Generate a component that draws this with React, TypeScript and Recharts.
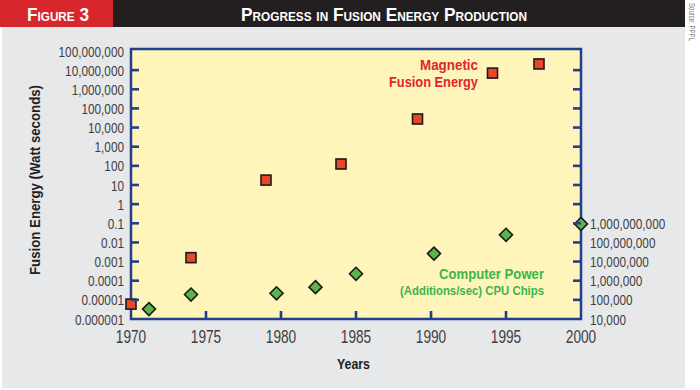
import React from 'react';
import { ScatterChart, Scatter, XAxis, YAxis, ReferenceArea } from 'recharts';

// Magnetic fusion energy (Watt seconds), left axis
const magneticYears = [1970, 1974, 1979, 1984, 1989.1, 1994.1, 1997.2];
const magneticEnergy = [6e-6, 1.6e-3, 18, 125, 2.8e4, 7e6, 2.1e7];

// Computer power (additions/sec), right axis
const cpuYears = [1971.2, 1974, 1979.7, 1982.3, 1985, 1990.2, 1995, 2000];
const cpuAdditions = [3.3e4, 1.9e5, 2.2e5, 4.6e5, 2.3e6, 2.6e7, 2.5e8, 9.3e8];

const yearTicks = [1970, 1975, 1980, 1985, 1990, 1995, 2000];
const yearTickLabels = ['1970', '1975', '1980', '1985', '1990', '1995', '2000'];

const energyTicks = [1e-6, 1e-5, 1e-4, 1e-3, 1e-2, 1e-1, 1, 10, 100, 1e3, 1e4, 1e5, 1e6, 1e7, 1e8];
const energyTickLabels = [
  '0.000001', '0.00001', '0.0001', '0.001', '0.01', '0.1', '1', '10', '100',
  '1,000', '10,000', '100,000', '1,000,000', '10,000,000', '100,000,000',
];

const cpuTicks = [1e4, 1e5, 1e6, 1e7, 1e8, 1e9, 1e10, 1e11, 1e12, 1e13, 1e14, 1e15, 1e16, 1e17];
const cpuTickLabels = ['10,000', '100,000', '1,000,000', '10,000,000', '100,000,000', '1,000,000,000'];

const energyDomain = [1e-6, 1.27e8];
const cpuDomain = [1e4, 1.27e18];

const magneticData = magneticYears.map((year, i) => ({ year, value: magneticEnergy[i] }));
const cpuData = cpuYears.map((year, i) => ({ year, value: cpuAdditions[i] }));

const FONT = '"Liberation Sans", Arial, sans-serif';
const BLUE = '#233F8E';
const TICK_TEXT = '#404040';

const LeftTick = (props: any) => {
  const { x, y, payload } = props;
  const v = payload.value;
  const i = energyTicks.findIndex((t) => Math.abs(Math.log10(t) - Math.log10(v)) < 1e-6);
  const label = energyTickLabels[i] ?? '';
  const showLine = i > 0 && i < energyTicks.length - 1;
  return (
    <g>
      {showLine && <line x1={x} x2={x + 8} y1={y} y2={y} stroke={BLUE} strokeWidth={2.6} />}
      <text transform={`translate(${x - 7},${y}) scale(0.76,1)`} textAnchor="end" dy="0.36em"
        fontSize={15.5} fontFamily={FONT} fill={TICK_TEXT}>{label}</text>
    </g>
  );
};

const RightTick = (props: any) => {
  const { x, y, payload } = props;
  const v = payload.value;
  const i = cpuTicks.findIndex((t) => Math.abs(Math.log10(t) - Math.log10(v)) < 1e-6);
  const label = cpuTickLabels[i] ?? '';
  const showLine = i > 0;
  return (
    <g>
      {showLine && <line x1={x - 8} x2={x} y1={y} y2={y} stroke={BLUE} strokeWidth={2.6} />}
      <text transform={`translate(${x + 9},${y}) scale(0.76,1)`} textAnchor="start" dy="0.36em"
        fontSize={15.5} fontFamily={FONT} fill={TICK_TEXT}>{label}</text>
    </g>
  );
};

const BottomTick = (props: any) => {
  const { x, y, payload } = props;
  const i = yearTicks.indexOf(payload.value);
  const showLine = i > 0 && i < yearTicks.length - 1;
  return (
    <g>
      {showLine && <line x1={x} x2={x} y1={y - 8} y2={y} stroke={BLUE} strokeWidth={2.6} />}
      <text transform={`translate(${x},${y + 18}) scale(0.76,1)`} textAnchor="middle" dy="0.36em"
        fontSize={18} fontFamily={FONT} fill={TICK_TEXT}>{yearTickLabels[i]}</text>
    </g>
  );
};

const Square = (p: any) => (
  <rect x={p.cx - 5} y={p.cy - 5} width={10} height={10} fill="#E8472A" stroke="#1b1b1b" strokeWidth={1.6} />
);

const Diamond = (p: any) => {
  const { cx, cy } = p;
  const r = 6.5;
  return (
    <polygon points={`${cx},${cy - r} ${cx + r},${cy} ${cx},${cy + r} ${cx - r},${cy}`}
      fill="#5DB44A" stroke="#1b1b1b" strokeWidth={1.6} />
  );
};

export default function App() {
  return (
    <div style={{ position: 'fixed', left: 0, top: 0, width: 700, height: 390, background: '#ffffff', overflow: 'hidden' }}>
      <div style={{ position: 'absolute', left: 2, top: 27, width: 683, height: 361, background: '#E7E8EA' }} />
      <div style={{ position: 'absolute', left: 0, top: 0 }}>
        <ScatterChart width={700} height={390} margin={{ top: 49, right: 0, bottom: 0, left: 0 }}>
          <XAxis type="number" dataKey="year" domain={[1970, 2000]} ticks={yearTicks} interval={0}
            height={71} axisLine={false} tickLine={false} tickSize={0} tickMargin={0} tick={<BottomTick />} />
          <YAxis yAxisId="left" type="number" dataKey="value" scale="log" domain={energyDomain}
            ticks={energyTicks} interval={0} width={131} axisLine={false} tickLine={false} tickSize={0}
            tickMargin={0} tick={<LeftTick />} />
          <YAxis yAxisId="right" orientation="right" type="number" dataKey="value" scale="log" domain={cpuDomain}
            ticks={cpuTicks} interval={0} width={119} axisLine={false} tickLine={false} tickSize={0}
            tickMargin={0} tick={<RightTick />} />
          <ReferenceArea yAxisId="left" x1={1970} x2={2000} y1={energyDomain[0]} y2={energyDomain[1]}
            fill="#FFF4B9" fillOpacity={1} stroke={BLUE} strokeWidth={2.5} ifOverflow="visible" />
          <Scatter name="Magnetic Fusion Energy" yAxisId="left" data={magneticData} dataKey="value"
            shape={<Square />} isAnimationActive={false} />
          <Scatter name="Computer Power" yAxisId="right" data={cpuData} dataKey="value"
            shape={<Diamond />} isAnimationActive={false} />
        </ScatterChart>
      </div>
      <svg width={700} height={390} style={{ position: 'absolute', left: 0, top: 0, pointerEvents: 'none' }}>
        <rect x={113} y={0} width={572} height={27} fill="#231F20" />
        <rect x={0} y={0} width={113} height={27} fill="#D7262C" />
        <text x={58} y={21} textAnchor="middle" fontFamily={FONT} fontWeight="bold" fontSize={19}
          style={{ fontVariant: 'small-caps' }} fill="#ffffff" textLength={62} lengthAdjust="spacingAndGlyphs">Figure 3</text>
        <text x={384} y={21} textAnchor="middle" fontFamily={FONT} fontWeight="bold" fontSize={19}
          style={{ fontVariant: 'small-caps' }} fill="#ffffff" textLength={286} lengthAdjust="spacingAndGlyphs">Progress in Fusion Energy Production</text>
        <text transform="translate(689,3) rotate(90)" fontFamily={FONT} fontSize={8.5} fill="#777777"
          textLength={38} lengthAdjust="spacingAndGlyphs">Source: PPPL</text>
        <text transform="translate(40,180) rotate(-90)" textAnchor="middle" fontFamily={FONT} fontWeight="bold"
          fontSize={15} fill="#222222" textLength={190} lengthAdjust="spacingAndGlyphs">Fusion Energy (Watt seconds)</text>
        <text x={353.5} y={369} textAnchor="middle" fontFamily={FONT} fontWeight="bold" fontSize={15.5}
          fill="#222222" textLength={33} lengthAdjust="spacingAndGlyphs">Years</text>
        <text x={478} y={70} textAnchor="end" fontFamily={FONT} fontWeight="bold" fontSize={15}
          fill="#E0262C" textLength={58} lengthAdjust="spacingAndGlyphs">Magnetic</text>
        <text x={478} y={86.5} textAnchor="end" fontFamily={FONT} fontWeight="bold" fontSize={15}
          fill="#E0262C" textLength={89} lengthAdjust="spacingAndGlyphs">Fusion Energy</text>
        <text x={544} y={279.3} textAnchor="end" fontFamily={FONT} fontWeight="bold" fontSize={14}
          fill="#3DB54A" textLength={105} lengthAdjust="spacingAndGlyphs">Computer Power</text>
        <text x={544} y={295} textAnchor="end" fontFamily={FONT} fontWeight="bold" fontSize={12.5}
          fill="#3DB54A" textLength={144} lengthAdjust="spacingAndGlyphs">(Additions/sec) CPU Chips</text>
      </svg>
    </div>
  );
}
